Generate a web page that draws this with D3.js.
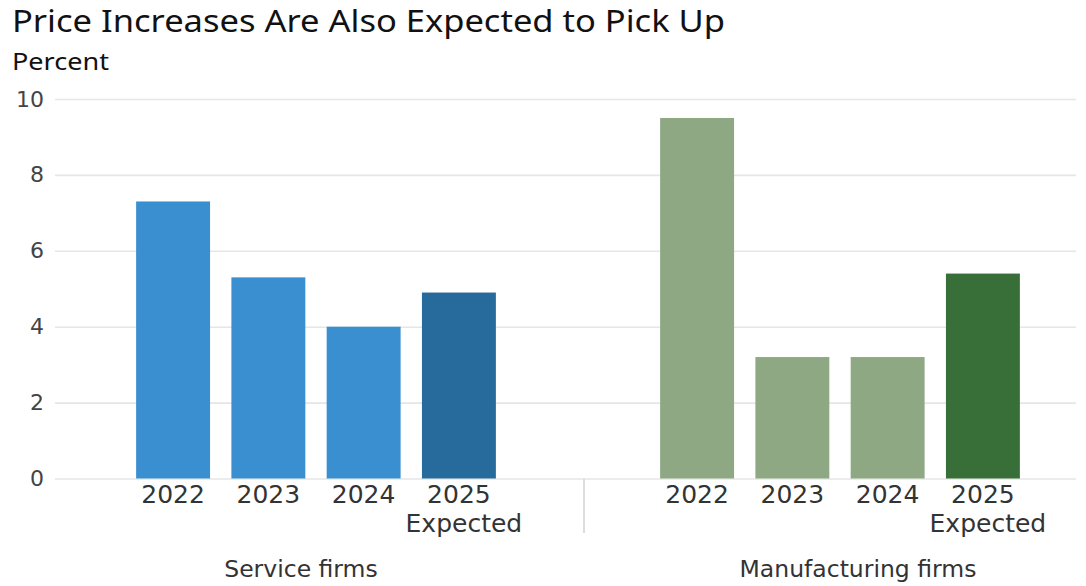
<!DOCTYPE html>
<html>
<head>
<meta charset="utf-8">
<script src="https://cdn.jsdelivr.net/npm/d3@7"></script>
<style>
  body { margin: 0; background: #fff; }
  svg { display: block; }
</style>
</head>
<body>
<svg id="chart"></svg>
<script>
// data
var groups = ["Service firms", "Manufacturing firms"];
var years = ["2022", "2023", "2024", "2025"];
var serviceValues = [7.3, 5.3, 4.0, 4.9];
var manufacturingValues = [9.5, 3.2, 3.2, 5.4];
var yTicks = [0, 2, 4, 6, 8, 10];

var colors = {
  "Service firms": ["#3a8fd0", "#3a8fd0", "#3a8fd0", "#276a9c"],
  "Manufacturing firms": ["#8ea884", "#8ea884", "#8ea884", "#386f39"]
};
// group label nudges (labels are not exactly centred in the original)
var labelShift = { "Service firms": -15, "Manufacturing firms": 18 };

var width = 1086, height = 586;
var plot = { left: 55, right: 1076, top: 99, bottom: 478.5 };

var svg = d3.select("#chart").attr("width", width).attr("height", height);

var rows = [];
groups.forEach(function (g, gi) {
  var vals = gi === 0 ? serviceValues : manufacturingValues;
  years.forEach(function (yr, i) {
    rows.push({ group: g, year: yr, value: vals[i], color: colors[g][i] });
  });
});

var y = d3.scaleLinear().domain([0, 10]).range([plot.bottom, plot.top]);

var x0 = d3.scaleBand().domain(groups).range([54, 1102]).padding(0);
var x1 = d3.scaleBand().domain(years).range([0, x0.bandwidth()])
  .paddingInner(0.224).paddingOuter(0.862);

// title
svg.append("text")
  .attr("x", 12).attr("y", 32)
  .attr("textLength", 713)
  .attr("lengthAdjust", "spacingAndGlyphs")
  .style("font-family", "'Noto Sans', sans-serif")
  .style("font-size", "31px")
  .style("fill", "#111")
  .text("Price Increases Are Also Expected to Pick Up");

svg.append("text")
  .attr("x", 12).attr("y", 70)
  .attr("textLength", 97)
  .attr("lengthAdjust", "spacingAndGlyphs")
  .style("font-family", "'Noto Sans', sans-serif")
  .style("font-size", "23px")
  .style("fill", "#111")
  .text("Percent");

// y axis with gridlines
var yAxis = svg.append("g")
  .attr("transform", "translate(" + plot.left + ",0)")
  .call(d3.axisLeft(y).tickValues(yTicks).tickSize(-(plot.right - plot.left)).tickPadding(11).tickFormat(d3.format("d")));

yAxis.select(".domain").remove();
yAxis.selectAll(".tick line").attr("stroke", "#e6e6e6").attr("stroke-width", 1.6);
yAxis.selectAll(".tick text")
  .style("font-family", "'DejaVu Sans', sans-serif")
  .style("font-size", "22px")
  .style("fill", "#444");

// bars
var gGroups = svg.selectAll(".grp")
  .data(groups)
  .enter().append("g")
  .attr("class", "grp")
  .attr("transform", function (d) { return "translate(" + x0(d) + ",0)"; });

gGroups.selectAll("rect")
  .data(function (g) { return rows.filter(function (r) { return r.group === g; }); })
  .enter().append("rect")
  .attr("x", function (d) { return x1(d.year); })
  .attr("width", x1.bandwidth())
  .attr("y", function (d) { return y(d.value); })
  .attr("height", function (d) { return y(0) - y(d.value); })
  .attr("fill", function (d) { return d.color; });

// year labels
gGroups.selectAll(".yr")
  .data(years)
  .enter().append("text")
  .attr("class", "yr")
  .attr("x", function (d) { return x1(d) + x1.bandwidth() / 2; })
  .attr("y", 503)
  .attr("text-anchor", "middle")
  .style("font-family", "'DejaVu Sans', sans-serif")
  .style("font-size", "25px")
  .style("fill", "#333")
  .text(function (d) { return d; });

gGroups.append("text")
  .attr("x", x1("2025") + x1.bandwidth() / 2 + 5)
  .attr("y", 532)
  .attr("text-anchor", "middle")
  .style("font-family", "'DejaVu Sans', sans-serif")
  .style("font-size", "25px")
  .style("fill", "#333")
  .text("Expected");

// group labels
gGroups.append("text")
  .attr("x", function (d) { return x0.bandwidth() / 2 + labelShift[d]; })
  .attr("y", 577)
  .attr("text-anchor", "middle")
  .style("font-family", "'DejaVu Sans', sans-serif")
  .style("font-size", "23.5px")
  .style("fill", "#333")
  .text(function (d) { return d; });

// divider between groups
svg.append("line")
  .attr("x1", x0(groups[1]) + 6).attr("x2", x0(groups[1]) + 6)
  .attr("y1", plot.bottom).attr("y2", 533)
  .attr("stroke", "#dcdcdc").attr("stroke-width", 2);
</script>
</body>
</html>
